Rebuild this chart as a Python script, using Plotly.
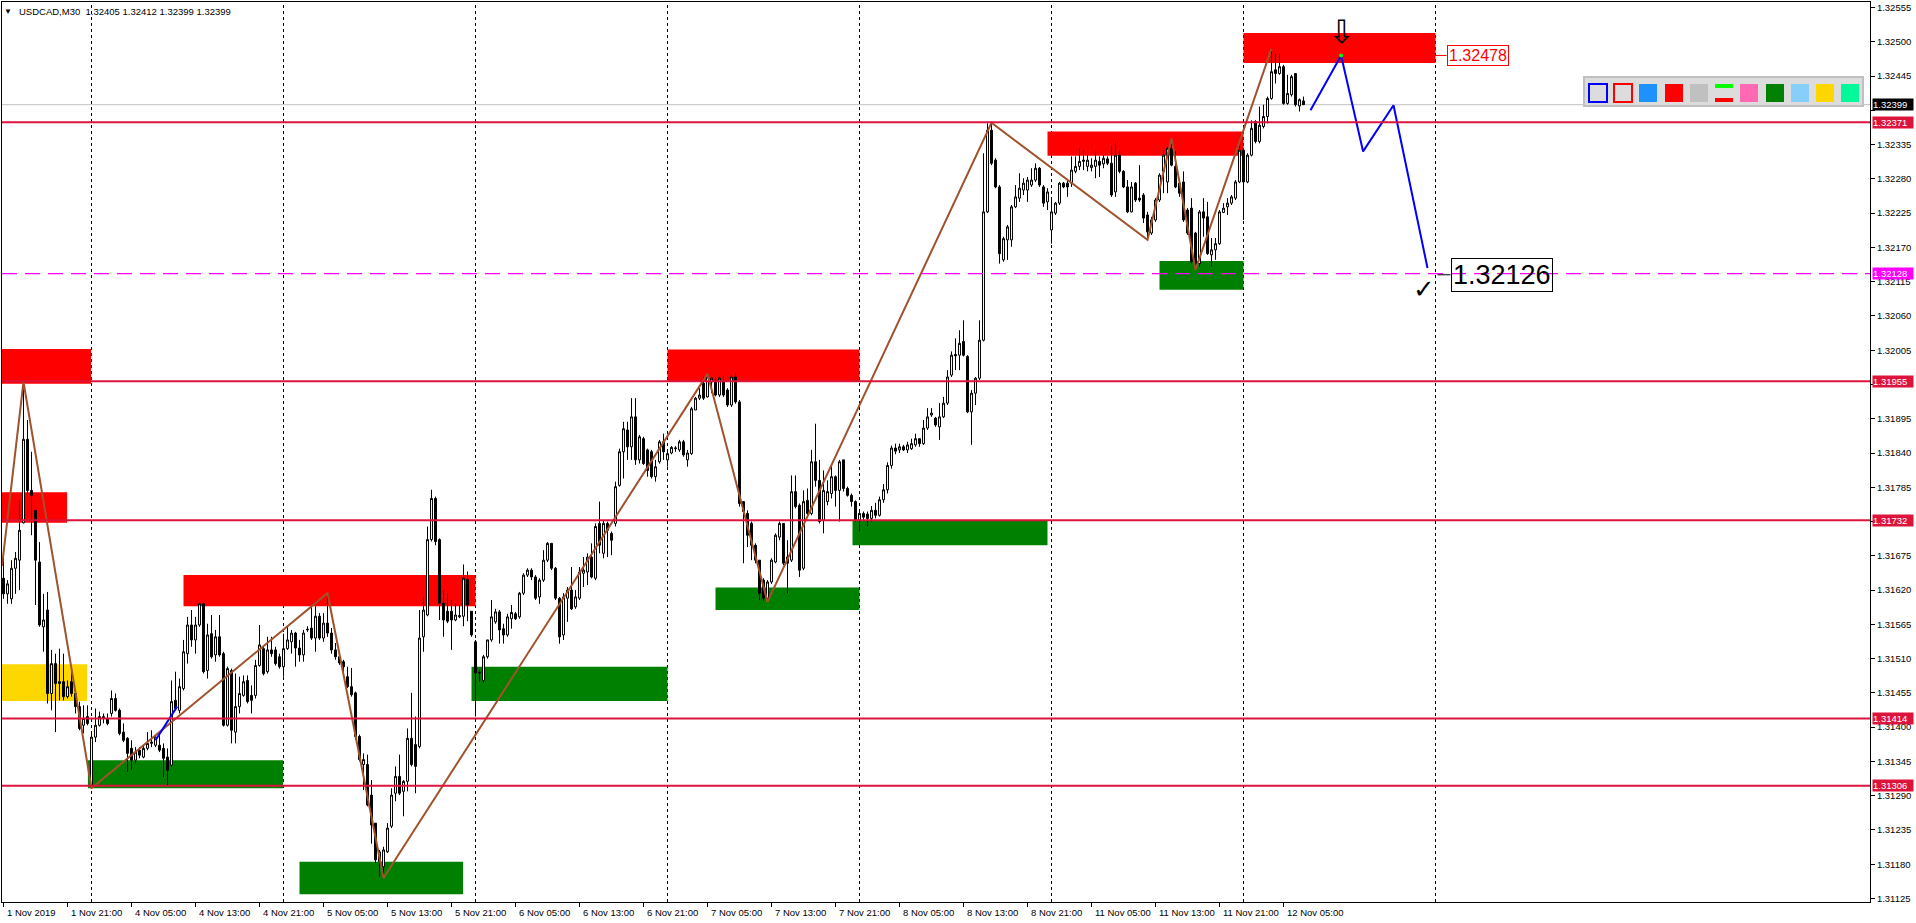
import plotly.graph_objects as go

# ---------------- DATA (prices in points, 1 point = 0.00001) ----------------
open_pts = [
131639,131614,131606,131655,131668,131728,131862,131780,131748,131665,
131561,131588,131454,131502,131470,131473,131449,131473,131454,131433,
131403,131417,131304,131384,131403,131414,131414,131422,131446,131427,
131392,131382,131366,131347,131363,131352,131366,131374,131371,131371,
131366,131352,131339,131443,131427,131462,131518,131564,131540,131564,
131598,131491,131550,131516,131545,131518,131403,131491,131392,131433,
131451,131475,131451,131451,131499,131526,131489,131524,131524,131513,
131497,131526,131537,131551,131527,131516,131556,131559,131543,131578,
131543,131567,131551,131524,131513,131505,131481,131465,131455,131385,
131340,131340,131291,131246,131184,131176,131200,131241,131294,131321,
131297,131313,131382,131372,131369,131545,131580,131701,131767,131701,
131599,131586,131586,131572,131577,131578,131637,131586,131537,131487,
131475,131513,131540,131569,131585,131558,131548,131574,131582,131577,
131615,131644,131652,131641,131609,131636,131668,131695,131655,131607,
131548,131607,131620,131593,131607,131647,131649,131673,131639,131727,
131679,131727,131711,131727,131788,131842,131877,131850,131898,131829,
131863,131845,131842,131802,131826,131858,131829,131840,131847,131845,
131858,131829,131839,131909,131928,131952,131930,131954,131954,131933,
131954,131941,131917,131962,131922,131762,131743,131727,131692,131668,
131636,131607,131633,131665,131705,131727,131673,131668,131778,131756,
131655,131764,131743,131826,131796,131732,131762,131775,131802,131780,
131829,131783,131772,131762,131732,131743,131742,131735,131748,131740,
131765,131781,131820,131848,131845,131850,131845,131847,131853,131863,
131855,131880,131901,131896,131882,131898,131920,131965,131998,131997,
132019,131995,131906,131936,131960,132021,132227,132358,132310,132267,
132150,132182,132182,132235,132249,132262,132262,132270,132278,132297,
132267,132243,132198,132225,132241,132273,132273,132273,132292,132300,
132308,132300,132298,132300,132308,132304,132312,132305,132259,132318,
132292,132267,132227,132273,132249,132254,132222,132193,132214,132246,
132292,132275,132329,132300,132273,132275,132230,132233,132193,132144,
132227,132219,132158,132166,132176,132226,132235,132241,132249,132275,
132326,132275,132318,132372,132340,132364,132380,132409,132455,132449,
132460,132401,132415,132449,132397,132405]

high_pts = [
131673,131636,131668,131681,131764,131954,131893,131842,131748,131697,
131614,131617,131524,131518,131526,131518,131475,131491,131459,131441,
131435,131435,131390,131430,131425,131422,131422,131459,131454,131430,
131406,131384,131379,131368,131368,131371,131392,131395,131387,131387,
131374,131366,131475,131489,131478,131540,131577,131588,131577,131601,
131600,131566,131580,131556,131580,131521,131497,131494,131486,131481,
131483,131483,131467,131508,131564,131529,131545,131545,131529,131518,
131550,131561,131556,131553,131540,131556,131562,131594,131594,131583,
131583,131615,131559,131535,131518,131508,131497,131495,131457,131388,
131358,131356,131315,131246,131203,131208,131246,131302,131337,131356,
131315,131398,131455,131417,131588,131609,131722,131781,131770,131703,
131620,131615,131604,131599,131596,131661,131650,131586,131540,131492,
131516,131540,131604,131590,131588,131566,131582,131596,131585,131617,
131647,131655,131655,131644,131639,131684,131697,131695,131657,131609,
131615,131625,131657,131620,131657,131673,131679,131695,131727,131762,
131732,131730,131714,131794,131847,131890,131890,131928,131928,131869,
131866,131847,131845,131829,131861,131871,131845,131851,131851,131861,
131861,131845,131914,131930,131944,131962,131967,131963,131962,131963,
131963,131944,131965,131968,131925,131762,131748,131730,131695,131668,
131639,131636,131671,131711,131730,131727,131700,131804,131804,131759,
131780,131783,131845,131887,131829,131812,131796,131818,131804,131829,
131829,131786,131775,131764,131746,131746,131746,131755,131760,131770,
131790,131825,131852,131855,131855,131853,131858,131863,131871,131863,
131893,131912,131912,131898,131920,131930,131973,132003,132024,132037,
132053,131997,131941,131962,132053,132321,132369,132370,132313,132270,
132187,132206,132238,132270,132289,132281,132283,132297,132305,132299,
132270,132265,132246,132243,132275,132275,132278,132316,132316,132329,
132326,132318,132313,132324,132316,132318,132316,132332,132337,132326,
132294,132278,132275,132275,132302,132257,132227,132219,132249,132289,
132326,132332,132345,132324,132275,132292,132233,132249,132195,132230,
132249,132243,132185,132185,132230,132241,132249,132254,132278,132332,
132329,132321,132374,132374,132396,132399,132412,132489,132481,132481,
132463,132447,132447,132449,132409,132412]

low_pts = [
131606,131598,131598,131614,131620,131727,131775,131708,131596,131561,
131521,131438,131427,131392,131443,131443,131446,131449,131422,131395,
131390,131403,131302,131376,131401,131406,131403,131417,131425,131387,
131376,131328,131331,131342,131350,131350,131363,131368,131368,131360,
131320,131307,131336,131427,131422,131459,131502,131529,131518,131561,
131486,131478,131510,131505,131513,131401,131401,131374,131374,131422,
131449,131438,131422,131446,131497,131483,131486,131513,131499,131494,
131481,131524,131518,131497,131505,131505,131553,131540,131521,131540,
131537,131545,131518,131508,131500,131481,131463,131449,131380,131345,
131299,131273,131213,131182,131160,131158,131198,131238,131281,131291,
131257,131297,131337,131294,131366,131521,131578,131698,131692,131572,
131545,131567,131524,131570,131575,131562,131570,131545,131417,131473,
131471,131510,131537,131566,131534,131534,131545,131558,131572,131574,
131612,131641,131636,131604,131598,131633,131665,131652,131604,131534,
131540,131569,131588,131590,131604,131625,131628,131639,131636,131679,
131671,131673,131676,131722,131786,131799,131829,131829,131821,131823,
131821,131802,131799,131794,131823,131829,131818,131838,131842,131842,
131834,131818,131837,131909,131925,131925,131929,131936,131931,131930,
131930,131914,131914,131919,131754,131663,131689,131668,131663,131604,
131603,131601,131630,131663,131700,131660,131615,131665,131751,131641,
131652,131738,131740,131786,131727,131711,131756,131767,131754,131730,
131778,131770,131754,131730,131714,131732,131722,131730,131735,131738,
131760,131775,131815,131838,131840,131843,131840,131845,131850,131850,
131853,131877,131898,131882,131861,131896,131917,131962,131973,131973,
131995,131904,131853,131917,131957,132019,132225,132302,132265,132144,
132147,132150,132171,132233,132243,132254,132243,132267,132275,132267,
132235,132230,132176,132222,132238,132265,132251,132267,132289,132294,
132294,132292,132292,132281,132283,132297,132302,132251,132251,132289,
132265,132225,132226,132243,132243,132209,132182,132190,132211,132243,
132257,132257,132300,132265,132251,132211,132190,132144,132134,132139,
132187,132158,132139,132150,132174,132225,132222,132238,132246,132273,
132214,132273,132316,132337,132337,132361,132369,132407,132433,132447,
132399,132399,132412,132396,132388,132399]

close_pts = [
131614,131630,131655,131671,131716,131862,131780,131772,131668,131564,
131572,131454,131502,131470,131473,131449,131465,131454,131433,131398,
131414,131406,131384,131403,131417,131417,131406,131446,131427,131390,
131379,131358,131347,131360,131355,131366,131374,131376,131384,131363,
131350,131331,131441,131430,131465,131521,131564,131540,131564,131598,
131489,131548,131513,131545,131516,131403,131494,131395,131433,131454,
131473,131441,131443,131499,131532,131486,131524,131518,131502,131497,
131526,131540,131551,131527,131516,131551,131557,131543,131578,131543,
131567,131551,131524,131513,131503,131497,131465,131452,131385,131348,
131348,131275,131243,131187,131200,131203,131238,131291,131321,131294,
131313,131382,131340,131337,131543,131588,131701,131767,131698,131599,
131572,131570,131572,131580,131579,131639,131596,131548,131487,131488,
131513,131540,131577,131585,131556,131548,131577,131584,131574,131615,
131644,131652,131641,131607,131636,131668,131695,131655,131607,131545,
131609,131620,131590,131609,131649,131652,131673,131641,131722,131692,
131727,131716,131700,131786,131842,131879,131850,131898,131829,131866,
131823,131812,131802,131818,131858,131842,131839,131849,131848,131858,
131837,131840,131911,131928,131933,131928,131962,131960,131933,131960,
131933,131917,131962,131922,131759,131746,131708,131692,131668,131615,
131607,131633,131668,131708,131727,131663,131663,131778,131754,131652,
131762,131743,131826,131796,131730,131780,131778,131802,131780,131826,
131783,131772,131762,131732,131743,131737,131735,131748,131740,131765,
131781,131820,131848,131843,131850,131845,131853,131855,131863,131855,
131880,131898,131904,131885,131898,131920,131962,131997,131996,132016,
131997,131906,131936,131960,132021,132227,132358,132305,132267,132160,
132184,132203,132235,132251,132265,132273,132278,132278,132297,132270,
132241,132259,132227,132241,132273,132267,132267,132294,132300,132308,
132310,132310,132302,132310,132302,132313,132305,132254,132318,132292,
132267,132227,132267,132246,132246,132217,132195,132214,132246,132286,
132318,132329,132302,132267,132257,132214,132193,132147,132144,132227,
132217,132160,132166,132176,132227,132233,132241,132251,132275,132326,
132275,132318,132361,132340,132366,132380,132409,132452,132449,132460,
132401,132417,132444,132399,132407,132399]

# time axis (bar index, M30 bars starting 1 Nov 2019 13:00)
time_label_idx = [0, 16, 32, 48, 64, 80, 96, 112, 128, 144, 160, 176, 192, 208,
                  224, 240, 256, 272, 288, 304, 320]
time_labels = ["1 Nov 2019", "1 Nov 21:00", "4 Nov 05:00", "4 Nov 13:00", "4 Nov 21:00",
               "5 Nov 05:00", "5 Nov 13:00", "5 Nov 21:00", "6 Nov 05:00", "6 Nov 13:00",
               "6 Nov 21:00", "7 Nov 05:00", "7 Nov 13:00", "7 Nov 21:00", "8 Nov 05:00",
               "8 Nov 13:00", "8 Nov 21:00", "11 Nov 05:00", "11 Nov 13:00", "11 Nov 21:00",
               "12 Nov 05:00"]
day_start_idx = [22, 70, 118, 166, 214, 262, 310, 358]

# price axis
price_ticks = [1.31125 + 0.00055 * k for k in range(27)]

# horizontal levels
level_prices = [1.32371, 1.31955, 1.31732, 1.31414, 1.31306]
target_price = 1.32128
bid_price = 1.32399

# supply / demand zones: start bar, end bar, top, bottom, colour
zone_x0 = [-0.4, -0.4, -0.4, 21.1, 45, 74, 117, 166, 178, 212.25, 261, 289, 310]
zone_x1 = [21.9, 15.9, 20.9, 69.9, 118, 114.9, 166, 214, 214, 261, 310, 310, 358]
zone_top = [1.32007, 1.31777, 1.31501, 1.31347, 1.31644, 1.31184, 1.31497, 1.32006,
            1.31624, 1.31731, 1.32356, 1.32148, 1.32514]
zone_bot = [1.31951, 1.31728, 1.31442, 1.31302, 1.31594, 1.31132, 1.31442, 1.31954,
            1.31588, 1.31692, 1.32317, 1.32102, 1.32466]
zone_color = ["#FF0000", "#FF0000", "#FFD700", "#008000", "#FF0000", "#008000", "#008000",
              "#FF0000", "#008000", "#008000", "#FF0000", "#008000", "#FF0000"]

# zigzag pivots
zz_start_idx, zz_start_price = -0.375, 1.31659
zz_idx = [5, 22, 81, 95, 176, 191, 247, 286, 292, 298, 317]
zz_kind = ["H", "L", "H", "L", "H", "L", "H", "L", "H", "L", "H"]

# small blue swing segment
blue_seg_idx = [38, 43.4]
blue_seg_price = [1.31379, 1.31433]

# projected path
proj_idx = [326.75, 334.4, 339.9, 347.5, 356.0]
proj_price = [1.32390, 1.32478, 1.32324, 1.32398, 1.32137]
sell_price = 1.32478
tp_price = 1.32126

# ---------------- BUILD ----------------
opens = [v / 1e5 for v in open_pts]
closes = [v / 1e5 for v in close_pts]
highs = [max(h / 1e5, o, c) for h, o, c in zip(high_pts, opens, closes)]
lows = [min(l / 1e5, o, c) for l, o, c in zip(low_pts, opens, closes)]
bars = list(range(len(opens)))

FONT = "Liberation Sans"
W, H = 1916, 923
ML, MR, MT, MB = 2, 46, 2, 21
PW, PH = W - ML - MR, H - MT - MB
X0 = -0.375                      # bar centres land on pixel centres (4 px per bar)
X1 = X0 + PW / 4.0


def px(x):
    return (x - ML) / PW


def py(y):
    return 1 - (y - MT) / PH


fig = go.Figure()

fig.add_trace(go.Candlestick(
    x=bars, open=opens, high=highs, low=lows, close=closes,
    increasing=dict(line=dict(color="black", width=1), fillcolor="white"),
    decreasing=dict(line=dict(color="black", width=1), fillcolor="black"),
    whiskerwidth=0, hoverinfo="none", showlegend=False))

zz_x = [zz_start_idx] + zz_idx
zz_y = [zz_start_price] + [highs[i] if k == "H" else lows[i] for i, k in zip(zz_idx, zz_kind)]
fig.add_trace(go.Scatter(x=zz_x, y=zz_y, mode="lines",
                         line=dict(color="#A0522D", width=2), hoverinfo="skip", showlegend=False))
fig.add_trace(go.Scatter(x=blue_seg_idx, y=blue_seg_price, mode="lines",
                         line=dict(color="#0000FF", width=2), hoverinfo="skip", showlegend=False))
fig.add_trace(go.Scatter(x=proj_idx, y=proj_price, mode="lines",
                         line=dict(color="#0000FF", width=2), hoverinfo="skip", showlegend=False))
fig.add_trace(go.Scatter(x=[proj_idx[1]], y=[proj_price[1]], mode="markers",
                         marker=dict(color="#00FF00", size=4), hoverinfo="skip", showlegend=False))

shapes = []
# grey bid line
shapes.append(dict(type="line", xref="paper", x0=0, x1=1, yref="y", y0=bid_price, y1=bid_price,
                   line=dict(color="#C0C0C0", width=1), layer="below"))
# zones
for x0, x1, t, b, c in zip(zone_x0, zone_x1, zone_top, zone_bot, zone_color):
    shapes.append(dict(type="rect", xref="x", yref="y", x0=x0, x1=x1, y0=b, y1=t,
                       fillcolor=c, line=dict(width=0), layer="below"))
# day separators
for d in day_start_idx:
    shapes.append(dict(type="line", xref="x", yref="paper", x0=d, x1=d, y0=0, y1=1,
                       line=dict(color="black", width=1, dash="3px,3px"), layer="below"))
# horizontal levels
for p in level_prices:
    shapes.append(dict(type="line", xref="paper", x0=0, x1=1, yref="y", y0=p, y1=p,
                       line=dict(color="#DC143C", width=2), layer="above"))
shapes.append(dict(type="line", xref="paper", x0=0, x1=1, yref="y", y0=target_price, y1=target_price,
                   line=dict(color="#FF00FF", width=1.2, dash="15px,8px"), layer="above"))
# connectors for price labels
shapes.append(dict(type="line", xref="x", yref="y", x0=358, x1=360.75, y0=sell_price, y1=sell_price,
                   line=dict(color="#FF0000", width=1)))
shapes.append(dict(type="line", xref="x", yref="y", x0=358.5, x1=361.75, y0=tp_price, y1=tp_price,
                   line=dict(color="black", width=1)))


# toolbar panel (UI decoration, pixel positions)
def prect(x0, y0, x1, y1, fill, lc=None, lw=0):
    return dict(type="rect", xref="paper", yref="paper", x0=px(x0), x1=px(x1), y0=py(y1), y1=py(y0),
                fillcolor=fill, line=dict(color=lc or fill, width=lw), layer="above")


shapes.append(prect(1584, 77, 1863, 106, "#DCDCDC", "#C0C0C0", 2))
sw_x = [1589, 1614, 1639, 1665, 1690, 1715, 1740, 1766, 1791, 1816, 1841]
sw_fill = ["#DCDCDC", "#DCDCDC", "#1E90FF", "#FF0000", "#C0C0C0", None,
           "#FF69B4", "#008000", "#87CEFA", "#FFD700", "#00FA9A"]
for k, (sx, f) in enumerate(zip(sw_x, sw_fill)):
    if k == 0:
        shapes.append(prect(sx, 84, sx + 18, 102, f, "#0000FF", 2))
    elif k == 1:
        shapes.append(prect(sx, 84, sx + 18, 102, f, "#FF0000", 2))
    elif f is None:
        shapes.append(prect(sx, 84, sx + 18, 88, "#00FF00"))
        shapes.append(prect(sx, 98, sx + 18, 102, "#FF0000"))
    else:
        shapes.append(prect(sx, 84, sx + 18, 102, f))

annotations = []
# title
annotations.append(dict(xref="paper", yref="paper", x=px(8), y=py(11), text="▼", showarrow=False,
                        xanchor="center", yanchor="middle", font=dict(family=FONT, size=8, color="black")))
annotations.append(dict(xref="paper", yref="paper", x=px(17), y=py(11),
                        text="USDCAD,M30  1.32405 1.32412 1.32399 1.32399", showarrow=False,
                        xanchor="left", yanchor="middle", font=dict(family=FONT, size=9.5, color="black")))
# time labels
for i, t in zip(time_label_idx, time_labels):
    annotations.append(dict(xref="x", yref="paper", x=i + 0.4, y=py(912), text=t, showarrow=False,
                            xanchor="left", yanchor="middle",
                            font=dict(family=FONT, size=9.5, color="black")))
# right axis coloured price labels
axis_tags = [(bid_price, "black")] + [(level_prices[0], "#DC143C"), (target_price, "#FF00FF")] + \
            [(p, "#DC143C") for p in level_prices[1:]]
for p, c in axis_tags:
    annotations.append(dict(xref="paper", yref="y", x=1, y=p, text=f"{p:.5f}", showarrow=False,
                            xanchor="left", yanchor="middle", xshift=2, width=40, height=11,
                            align="left", bgcolor=c, borderpad=0,
                            font=dict(family=FONT, size=9.5, color="white")))
# tick labels hidden behind a coloured tag are left blank
tag_prices = [p for p, _ in axis_tags]
tick_text = ["" if any(abs(v - p) < 0.00011 for p in tag_prices) else f"{v:.5f}" for v in price_ticks]

# chart text objects
annotations.append(dict(xref="x", yref="y", x=360.75, y=sell_price, text=f"{sell_price:.5f}",
                        showarrow=False, xanchor="left", yanchor="middle", bgcolor="white",
                        bordercolor="#FF0000", borderwidth=1, borderpad=1,
                        font=dict(family=FONT, size=16, color="#FF0000")))
annotations.append(dict(xref="x", yref="y", x=361.75, y=tp_price, text=f"{tp_price:.5f}",
                        showarrow=False, xanchor="left", yanchor="middle",
                        bordercolor="black", borderwidth=1, borderpad=1,
                        font=dict(family=FONT, size=27, color="black")))
annotations.append(dict(xref="x", yref="y", x=355, y=1.32103, text="✓", showarrow=False,
                        xanchor="center", yanchor="middle",
                        font=dict(family="DejaVu Sans", size=26, color="black")))
annotations.append(dict(xref="x", yref="y", x=334.4, y=1.32516, text="⇩", showarrow=False,
                        xanchor="center", yanchor="middle",
                        font=dict(family="DejaVu Sans", size=32, color="black")))

fig.update_layout(
    width=W, height=H, autosize=False,
    margin=dict(l=ML, r=MR, t=MT, b=MB, pad=0),
    paper_bgcolor="white", plot_bgcolor="white",
    showlegend=False, hovermode=False,
    shapes=shapes, annotations=annotations,
    xaxis=dict(range=[X0, X1], showgrid=False, zeroline=False,
               rangeslider=dict(visible=False), showline=True, mirror=True,
               linecolor="black", linewidth=1, ticks="outside", ticklen=4,
               tickcolor="black", tickvals=time_label_idx, showticklabels=False),
    yaxis=dict(range=[1.311194, 1.325638], side="right", showgrid=False, zeroline=False,
               showline=True, mirror=True, linecolor="black", linewidth=1,
               ticks="outside", ticklen=4, tickcolor="black",
               tickvals=price_ticks, ticktext=tick_text,
               tickfont=dict(family=FONT, size=9.5, color="black")),
)

fig.write_html("out.html", config={"displayModeBar": False},
               post_script="document.body.style.margin='0';document.body.style.overflow='hidden';")
